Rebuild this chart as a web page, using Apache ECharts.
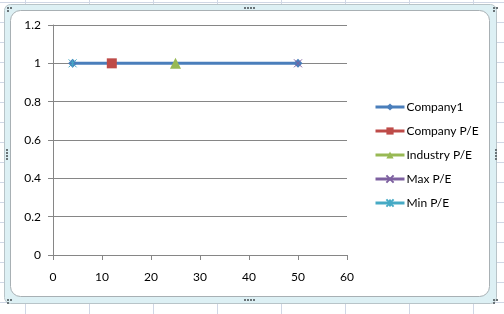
<!DOCTYPE html>
<html><head><meta charset="utf-8">
<script src="https://cdn.jsdelivr.net/npm/echarts@6/dist/echarts.min.js"></script>
<style>html,body{margin:0;padding:0;background:#fff}#c{width:504px;height:314px}</style>
</head><body><div id="c"></div>
<script>
const seriesNames = ['Company1','Company P/E','Industry P/E','Max P/E','Min P/E'];
const company1 = [[4,1],[50,1]];
const companyPE = [[12,1]];
const industryPE = [[25,1]];
const maxPE = [[50,1]];
const minPE = [[4,1]];
const yTicks = [0,0.2,0.4,0.6,0.8,1,1.2];
const xTicks = [0,10,20,30,40,50,60];

const colors = ['#4A7EBB','#BE4B48','#98B954','#7D60A0','#46AAC5'];
const font = 'Lato, "Open Sans", sans-serif';

// spreadsheet background decoration
const bg = [];
for (let y = 2; y < 314; y += 20) bg.push({type:'line', z:-20, shape:{x1:0,y1:y+0.5,x2:504,y2:y+0.5}, style:{stroke:'#D0D7E5',lineWidth:1}});
for (let x = 25; x < 504; x += 64) bg.push({type:'line', z:-20, shape:{x1:x+0.5,y1:0,x2:x+0.5,y2:314}, style:{stroke:'#D0D7E5',lineWidth:1}});
bg.push({type:'rect', z:-15, shape:{x:4.5,y:4.5,width:492,height:299,r:6}, style:{fill:'#DDF0F4',stroke:'#B8C4C8',lineWidth:1}});
bg.push({type:'rect', z:-14, shape:{x:10.5,y:10.5,width:479,height:286,r:10}, style:{fill:'#FFFFFF',stroke:'#A8B0B4',lineWidth:1}});
function dots(cx, cy, horiz){
  for (let i=0;i<4;i++) bg.push({type:'rect', z:-13, shape: horiz?{x:cx+i*3,y:cy,width:2,height:2}:{x:cx,y:cy+i*3,width:2,height:2}, style:{fill:'#6A7478'}});
}
dots(244,7,true); dots(244,299,true); dots(6,149,false); dots(495,149,false);
[[7,7],[493,7],[7,299],[493,299]].forEach(p=>{bg.push({type:'rect',z:-13,shape:{x:p[0],y:p[1],width:2,height:2},style:{fill:'#6A7478'}});bg.push({type:'rect',z:-13,shape:{x:p[0]+3,y:p[1],width:2,height:2},style:{fill:'#6A7478'}});bg.push({type:'rect',z:-13,shape:{x:p[0],y:p[1]+3,width:2,height:2},style:{fill:'#6A7478'}});});

const xSym = 'path://M0,0L10,10M10,0L0,10';
const starSym = 'path://M0,0L10,10M10,0L0,10M5,0L5,10';

const chart = echarts.init(document.getElementById('c'), null, {renderer:'canvas'});
chart.setOption({
  animation:false,
  textStyle:{fontFamily:font},
  graphic: bg,
  grid:{left:53,right:157,top:25,bottom:59,containLabel:false},
  xAxis:{type:'value',min:xTicks[0],max:xTicks[xTicks.length-1],interval:10,
    axisLine:{show:true,onZero:false,lineStyle:{color:'#868686'}},
    axisTick:{show:true,inside:false,length:5,lineStyle:{color:'#868686'}},
    splitLine:{show:false},
    axisLabel:{color:'#000',fontSize:12,margin:16,fontFamily:font}},
  yAxis:{type:'value',min:yTicks[0],max:yTicks[yTicks.length-1],interval:0.2,
    axisLine:{show:true,onZero:false,lineStyle:{color:'#868686'}},
    axisTick:{show:true,inside:false,length:5,lineStyle:{color:'#868686'}},
    splitLine:{show:true,lineStyle:{color:'#868686',width:1}},
    axisLabel:{color:'#000',fontSize:12,margin:12,fontFamily:font}},
  legend:{orient:'vertical',left:374,top:101,padding:0,itemWidth:29,itemHeight:9,itemGap:12,
    lineStyle:{width:3},
    textStyle:{color:'#000',fontSize:12,fontFamily:font,padding:[0,0,0,-3]},
    data:seriesNames},
  series:[
    {name:seriesNames[0],type:'line',data:company1,color:colors[0],lineStyle:{width:3,color:colors[0]},symbol:'diamond',symbolSize:9,itemStyle:{color:colors[0]},z:2},
    {name:seriesNames[1],type:'line',data:companyPE,color:colors[1],lineStyle:{width:3,color:colors[1]},symbol:'rect',symbolSize:10,itemStyle:{color:colors[1]},z:3},
    {name:seriesNames[2],type:'line',data:industryPE,color:colors[2],lineStyle:{width:3,color:colors[2]},symbol:'triangle',symbolSize:11,itemStyle:{color:colors[2]},z:3},
    {name:seriesNames[3],type:'line',data:maxPE,color:colors[3],lineStyle:{width:3,color:colors[3]},symbol:xSym,symbolSize:8,itemStyle:{color:colors[3],borderColor:colors[3],borderWidth:1},z:3},
    {name:seriesNames[4],type:'line',data:minPE,color:colors[4],lineStyle:{width:3,color:colors[4]},symbol:starSym,symbolSize:8,itemStyle:{color:colors[4],borderColor:colors[4],borderWidth:1},z:3}
  ]
});
</script></body></html>
